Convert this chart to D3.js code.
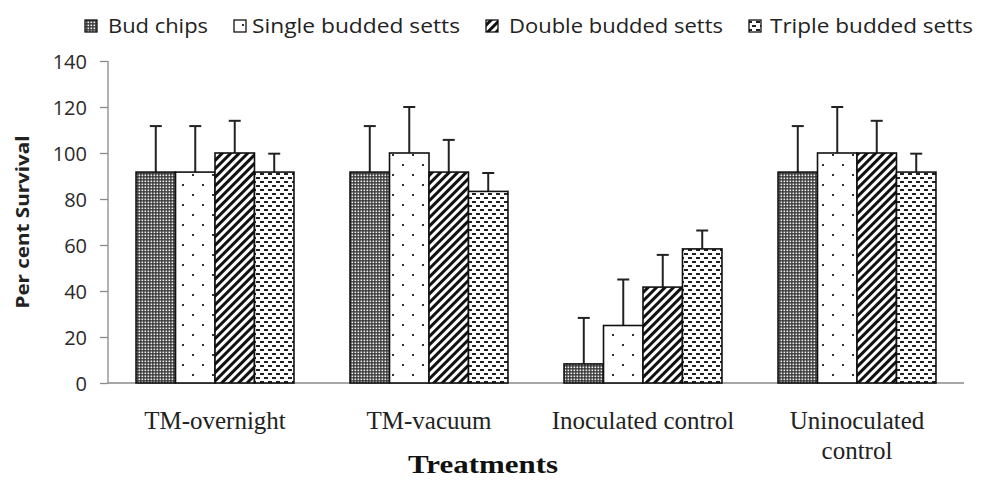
<!DOCTYPE html>
<html><head><meta charset="utf-8">
<script src="https://cdn.jsdelivr.net/npm/d3@7"></script>
<style>body{margin:0;background:#fff}svg{display:block}</style>
</head><body>
<svg id="c" width="983" height="480"></svg>
<script>
const categories = ["TM-overnight", "TM-vacuum", "Inoculated control", "Uninoculated control"];
const categoryLines = [["TM-overnight"], ["TM-vacuum"], ["Inoculated control"], ["Uninoculated", "control"]];
const seriesNames = ["Bud chips", "Single budded setts", "Double budded setts", "Triple budded setts"];
const budChips = [91.7, 91.7, 8.3, 91.7];
const budChipsErr = [20, 20, 20, 20];
const singleBudded = [91.7, 100, 25, 100];
const singleBuddedErr = [20, 20, 20, 20];
const doubleBudded = [100, 91.7, 41.7, 100];
const doubleBuddedErr = [14, 14, 14, 14];
const tripleBudded = [91.7, 83.3, 58.3, 91.7];
const tripleBuddedErr = [8, 8, 8, 8];
const yTicks = [0, 20, 40, 60, 80, 100, 120, 140];
const yTitle = "Per cent Survival";
const xTitle = "Treatments";

const seriesValues = [budChips, singleBudded, doubleBudded, tripleBudded];
const seriesErrs = [budChipsErr, singleBuddedErr, doubleBuddedErr, tripleBuddedErr];
const patIds = ["pChk", "pDot", "pDiag", "pDash"];

const svg = d3.select("#c");
const defs = svg.append("defs");
// checker
let p = defs.append("pattern").attr("id","pChk").attr("patternUnits","userSpaceOnUse").attr("width",3).attr("height",3);
p.append("rect").attr("width",3).attr("height",3).attr("fill","#333");
p.append("rect").attr("x",0.5).attr("y",0.5).attr("width",1.7).attr("height",1.7).attr("fill","#f0f0f0");
// dots
p = defs.append("pattern").attr("id","pDot").attr("patternUnits","userSpaceOnUse").attr("width",20).attr("height",20);
p.append("rect").attr("width",20).attr("height",20).attr("fill","#fff");
p.append("rect").attr("x",2).attr("y",4).attr("width",2).attr("height",2).attr("fill","#333");
p.append("rect").attr("x",12).attr("y",14).attr("width",2).attr("height",2).attr("fill","#333");
// diagonal
p = defs.append("pattern").attr("id","pDiag").attr("patternUnits","userSpaceOnUse").attr("width",6).attr("height",6).attr("patternTransform","rotate(45)");
p.append("rect").attr("width",6).attr("height",6).attr("fill","#fff");
p.append("rect").attr("width",3).attr("height",6).attr("fill","#111");
// dashes
p = defs.append("pattern").attr("id","pDash").attr("patternUnits","userSpaceOnUse").attr("width",8).attr("height",8);
p.append("rect").attr("width",8).attr("height",8).attr("fill","#fff");
p.append("rect").attr("x",0).attr("y",1).attr("width",4).attr("height",2).attr("fill","#222");
p.append("rect").attr("x",4).attr("y",5).attr("width",4).attr("height",2).attr("fill","#222");

const x0 = d3.scaleBand().domain(categories).range([108, 964]).paddingInner(0.262).paddingOuter(0.131);
const x1 = d3.scaleBand().domain(seriesNames).range([0, x0.bandwidth()]).padding(0);
const y = d3.scaleLinear().domain([0, 140]).range([383, 61]);

// y axis
const yAxis = d3.axisLeft(y).tickValues(yTicks).tickSize(8).tickPadding(13);
const ga = svg.append("g").attr("transform","translate(108,0)").call(yAxis);
ga.selectAll("path,line").attr("stroke","#8a8a8a").attr("stroke-width",1.3);
ga.select(".domain").attr("d","M0,61V383");
ga.selectAll("text").attr("font-family","Open Sans").attr("font-size",20).attr("fill","#2a2a2a").attr("dy","0.35em");

// x axis line
svg.append("line").attr("x1",108).attr("x2",964).attr("y1",y(0)).attr("y2",y(0)).attr("stroke","#8a8a8a").attr("stroke-width",1.3);

// bars
seriesNames.forEach((s, si) => {
  const g = svg.append("g");
  categories.forEach((c, ci) => {
    const v = seriesValues[si][ci], e = seriesErrs[si][ci];
    const bx = x0(c) + x1(s), bw = x1.bandwidth(), cx = bx + bw/2;
    g.append("line").attr("x1",cx).attr("x2",cx).attr("y1",y(v)).attr("y2",y(v+e)).attr("stroke","#222").attr("stroke-width",2);
    g.append("line").attr("x1",cx-6).attr("x2",cx+6).attr("y1",y(v+e)).attr("y2",y(v+e)).attr("stroke","#222").attr("stroke-width",2);
    g.append("rect").attr("x",bx).attr("y",y(v)).attr("width",bw).attr("height",y(0)-y(v))
      .attr("fill","url(#"+patIds[si]+")").attr("stroke","#111").attr("stroke-width",1.6);
  });
});

// category labels
categories.forEach((c, ci) => {
  const t = svg.append("text").attr("x", x0(c)+x0.bandwidth()/2).attr("y",429).attr("text-anchor","middle")
    .attr("font-family","Liberation Serif").attr("font-size",25).attr("fill","#222");
  categoryLines[ci].forEach((ln, li) => t.append("tspan").attr("x", x0(c)+x0.bandwidth()/2).attr("dy", li===0?0:30).text(ln));
});

svg.append("text").attr("x",483).attr("y",473).attr("text-anchor","middle").attr("font-family","Liberation Serif")
  .attr("font-weight","bold").attr("font-size",26).attr("fill","#111").attr("textLength",150).attr("lengthAdjust","spacingAndGlyphs").text(xTitle);

svg.append("text").attr("transform","translate(29,222) rotate(-90)").attr("text-anchor","middle").attr("font-family","Open Sans")
  .attr("font-weight","bold").attr("font-size",18).attr("fill","#222").attr("textLength",173).attr("lengthAdjust","spacingAndGlyphs").text(yTitle);

// legend
const legBox = [85, 234, 486, 749];
const legText = [108, 252, 509, 770];
const legW = [100, 208, 214, 203];
seriesNames.forEach((s, si) => {
  svg.append("rect").attr("x",legBox[si]).attr("y",20).attr("width",12).attr("height",12)
    .attr("fill","url(#"+patIds[si]+")").attr("stroke","#111").attr("stroke-width",1.3);
  svg.append("text").attr("x",legText[si]).attr("y",33).attr("font-family","Open Sans").attr("font-size",20)
    .attr("fill","#222").attr("textLength",legW[si]).attr("lengthAdjust","spacingAndGlyphs").text(s);
});
</script>
</body></html>
